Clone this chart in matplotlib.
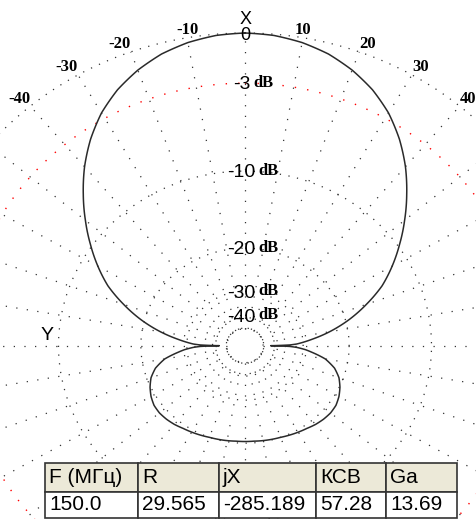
import numpy as np
import matplotlib.pyplot as plt

# radiation pattern, half (0..180 deg from X axis), gain in dB; mirrored for the other side
half_angles = [0, 5, 10, 15, 20, 25, 30, 35, 40, 45, 50, 55, 60, 65, 70, 75, 80, 84, 86, 88, 89,
               90, 91, 92, 94, 96, 100, 105, 110, 115, 120, 125, 130, 135, 140, 145, 150, 155,
               160, 165, 170, 175, 180]
half_gain = [0.0, -0.07, -0.27, -0.6, -1.1, -1.75, -2.6, -3.7, -5.0, -6.5, -8.1, -9.8, -11.6,
             -13.6, -16.3, -19.4, -23.3, -27.3, -29.5, -32.0, -34.5,
             -44.0, -34.5, -32.0, -29.3, -27.5, -24.2, -22.0, -20.7, -19.9, -19.3, -18.9,
             -18.8, -18.9, -19.1, -19.4, -19.6, -19.8, -20.0, -20.1, -20.2, -20.3, -20.3]

ring_db = [0, -3, -10, -20, -30, -40, -50]
ring_labels = [-3, -10, -20, -30, -40]
angle_ticks = [-40, -30, -20, -10, 10, 20, 30, 40]

col_labels = ["F (МГц)", "R", "jX", "КСВ", "Ga"]
row_values = ["150.0", "29.565", "-285.189", "57.28", "13.69"]


def db_to_r(db):
    # ARRL-style log scale used by MMANA
    return 0.89 ** (-np.asarray(db, dtype=float) / 2.0)


W, H = 476, 519
cx, cy = 245, 345.7
Rx, Ry = 334, 312.7

fig = plt.figure(figsize=(W / 100, H / 100), dpi=100)
fig.patch.set_facecolor("white")
ax = fig.add_axes([(cx - Rx) / W, (H - cy - Ry) / H, 2 * Rx / W, 2 * Ry / H], projection="polar")
ax.set_aspect("auto")
ax.set_theta_zero_location("N")
ax.set_theta_direction(-1)
ax.set_ylim(0, 1)
ax.axis("off")

# grid rings
circ = np.linspace(0, 2 * np.pi, 721)
for db in ring_db:
    if db == -3:
        ax.plot(circ, np.full_like(circ, db_to_r(db)), color="#ff0000", lw=1.0,
                ls=(0, (1.0, 8)), clip_on=False)
    else:
        ax.plot(circ, np.full_like(circ, db_to_r(db)), color="#333333", lw=0.9,
                ls=(0, (1.0, 6)), clip_on=False)

# spokes every 10 degrees
for a in range(0, 360, 10):
    t = np.deg2rad(a)
    ax.plot([t, t], [db_to_r(-50), 1.0], color="#333333", lw=0.9,
            ls=(0, (1.0, 7.5)), clip_on=False)

# pattern
ang = np.array(half_angles, dtype=float)
g = np.array(half_gain)
full_ang = np.concatenate([ang, 360 - ang[::-1][1:]])
full_g = np.concatenate([g, g[::-1][1:]])
line, = ax.plot(np.deg2rad(full_ang), db_to_r(full_g), color="#2a2a2a", lw=1.1, clip_on=False)
line.get_path()._interpolation_steps = 12

# angle labels
serif = dict(family="Liberation Serif", weight="bold")
for a in angle_ticks:
    ha = "center" if abs(a) == 10 else ("left" if a > 0 else "right")
    ax.annotate(str(a), xy=(np.deg2rad(a), 1.0), xytext=(0, 2.5), textcoords="offset points",
                ha=ha, va="baseline", fontsize=12, **serif)
ax.annotate("0", xy=(0, 1.0), xytext=(0, -4.9), textcoords="offset points",
            ha="center", va="baseline", family="Liberation Sans", fontsize=13)
ax.annotate("X", xy=(0, 1.0), xytext=(0.5, 6.6), textcoords="offset points",
            ha="center", va="baseline", family="Liberation Sans", fontsize=13)
fig.text(47 / W, 1 - 336 / H, "Y", ha="center", va="center",
         family="Liberation Sans", fontsize=14)

# dB labels along the 0 deg spoke
for db in ring_labels:
    num = ax.annotate(str(db), xy=(0, db_to_r(db)), xytext=(-2.5, -4.5),
                      textcoords="offset points", ha="center", va="baseline",
                      family="Liberation Sans", fontsize=14)
    ax.annotate("dB", xy=(1, 0), xycoords=num, xytext=(2.0, 2.0),
                textcoords="offset points", ha="left", va="bottom", fontsize=12, **serif)

# parameter table
col_px = [93, 81, 97, 70, 71]
tax = fig.add_axes([45 / W, 1 / H, sum(col_px) / W, 55 / H])
tax.axis("off")
tbl = tax.table(cellText=[row_values], colLabels=col_labels,
                colWidths=[c / sum(col_px) for c in col_px],
                cellLoc="left", colLoc="left", bbox=[0, 0, 1, 1])
tbl.auto_set_font_size(False)
tbl.set_fontsize(15)
for (r, c), cell in tbl.get_celld().items():
    cell.set_edgecolor("#333333")
    cell.set_linewidth(1.2)
    cell.PAD = 4.0 / col_px[c]
    cell.get_text().set_fontfamily("Liberation Sans")
    if r == 0:
        cell.set_facecolor("#ECE9D8")
        cell.set_height(29)
    else:
        cell.set_facecolor("white")
        cell.set_height(26)

fig.savefig("out.png", dpi=100)
